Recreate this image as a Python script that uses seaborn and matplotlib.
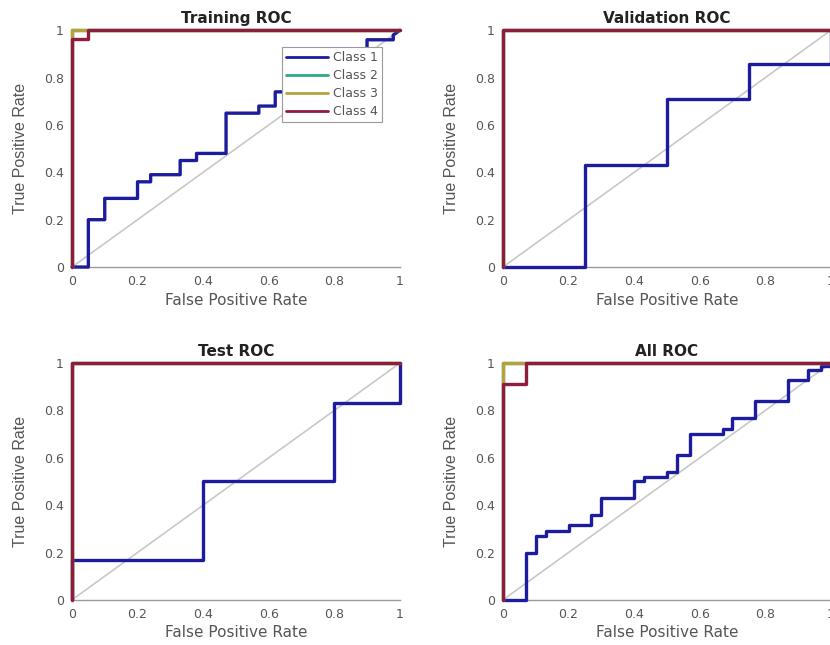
import pandas as pd
import matplotlib.pyplot as plt
import seaborn as sns


# ROC curve points (false positive rate, true positive rate) per data split and class
TRAIN_FPR = {
    "Class 1": [0, 0.05, 0.05, 0.10, 0.10, 0.20, 0.20, 0.24, 0.24, 0.33, 0.33, 0.38, 0.38,
                0.47, 0.47, 0.57, 0.57, 0.62, 0.62, 0.71, 0.71, 0.81, 0.81, 0.90, 0.90,
                0.98, 0.98, 1.0],
    "Class 2": [0, 0, 1.0],
    "Class 3": [0, 0, 1.0],
    "Class 4": [0, 0, 0.05, 0.05, 1.0],
}
TRAIN_TPR = {
    "Class 1": [0, 0, 0.20, 0.20, 0.29, 0.29, 0.36, 0.36, 0.39, 0.39, 0.45, 0.45, 0.48,
                0.48, 0.65, 0.65, 0.68, 0.68, 0.74, 0.74, 0.81, 0.81, 0.87, 0.87, 0.96,
                0.96, 0.98, 1.0],
    "Class 2": [0, 1.0, 1.0],
    "Class 3": [0, 1.0, 1.0],
    "Class 4": [0, 0.965, 0.965, 1.0, 1.0],
}

VAL_FPR = {
    "Class 1": [0, 0.25, 0.25, 0.50, 0.50, 0.75, 0.75, 1.0, 1.0],
    "Class 2": [0, 0, 1.0],
    "Class 3": [0, 0, 1.0],
    "Class 4": [0, 0, 1.0],
}
VAL_TPR = {
    "Class 1": [0, 0, 0.43, 0.43, 0.71, 0.71, 0.857, 0.857, 1.0],
    "Class 2": [0, 1.0, 1.0],
    "Class 3": [0, 1.0, 1.0],
    "Class 4": [0, 1.0, 1.0],
}

TEST_FPR = {
    "Class 1": [0, 0, 0.40, 0.40, 0.80, 0.80, 1.0, 1.0],
    "Class 2": [0, 0, 1.0],
    "Class 3": [0, 0, 1.0],
    "Class 4": [0, 0, 1.0],
}
TEST_TPR = {
    "Class 1": [0, 0.167, 0.167, 0.50, 0.50, 0.833, 0.833, 1.0],
    "Class 2": [0, 1.0, 1.0],
    "Class 3": [0, 1.0, 1.0],
    "Class 4": [0, 1.0, 1.0],
}

ALL_FPR = {
    "Class 1": [0, 0.07, 0.07, 0.10, 0.10, 0.13, 0.13, 0.20, 0.20, 0.27, 0.27, 0.30, 0.30,
                0.40, 0.40, 0.43, 0.43, 0.50, 0.50, 0.53, 0.53, 0.57, 0.57, 0.67, 0.67,
                0.70, 0.70, 0.77, 0.77, 0.87, 0.87, 0.93, 0.93, 0.97, 0.97, 1.0, 1.0],
    "Class 2": [0, 0, 1.0],
    "Class 3": [0, 0, 1.0],
    "Class 4": [0, 0, 0.07, 0.07, 1.0],
}
ALL_TPR = {
    "Class 1": [0, 0, 0.20, 0.20, 0.27, 0.27, 0.29, 0.29, 0.315, 0.315, 0.36, 0.36, 0.43,
                0.43, 0.50, 0.50, 0.52, 0.52, 0.54, 0.54, 0.61, 0.61, 0.70, 0.70, 0.72,
                0.72, 0.77, 0.77, 0.84, 0.84, 0.93, 0.93, 0.97, 0.97, 0.99, 0.99, 1.0],
    "Class 2": [0, 1.0, 1.0],
    "Class 3": [0, 1.0, 1.0],
    "Class 4": [0, 0.91, 0.91, 1.0, 1.0],
}

CLASSES = ["Class 1", "Class 2", "Class 3", "Class 4"]
CLASS_COLORS = ["#1c1c9c", "#2ea88a", "#b5a23c", "#8e1c3c"]
PANEL_TITLES = ["Training ROC", "Validation ROC", "Test ROC", "All ROC"]
TICKS = [0, 0.2, 0.4, 0.6, 0.8, 1]
TICK_LABELS = ["0", "0.2", "0.4", "0.6", "0.8", "1"]


def to_frame(fpr, tpr):
    rows = []
    for name in CLASSES:
        for i, (x, y) in enumerate(zip(fpr[name], tpr[name])):
            rows.append({"cls": name, "order": i, "fpr": x, "tpr": y})
    return pd.DataFrame(rows)


PANELS = [
    to_frame(TRAIN_FPR, TRAIN_TPR),
    to_frame(VAL_FPR, VAL_TPR),
    to_frame(TEST_FPR, TEST_TPR),
    to_frame(ALL_FPR, ALL_TPR),
]

sns.set_style("white")
plt.rcParams["font.family"] = ["DejaVu Sans"]

fig = plt.figure(figsize=(8.3, 6.45), dpi=100)

# axes boxes in figure fraction: left, bottom, width, height
POSITIONS = [
    [0.0867, 0.586, 0.395, 0.367],
    [0.606, 0.586, 0.395, 0.367],
    [0.0867, 0.070, 0.395, 0.367],
    [0.606, 0.070, 0.395, 0.367],
]

for idx, (df, title, pos) in enumerate(zip(PANELS, PANEL_TITLES, POSITIONS)):
    ax = fig.add_axes(pos)

    # chance diagonal
    diag = pd.DataFrame({"fpr": [0, 1], "tpr": [0, 1]})
    sns.lineplot(data=diag, x="fpr", y="tpr", ax=ax, color="#c8c8c8",
                 linewidth=1.2, sort=False, estimator=None, zorder=1)

    sns.lineplot(
        data=df,
        x="fpr",
        y="tpr",
        hue="cls",
        hue_order=CLASSES,
        palette=CLASS_COLORS,
        units="cls",
        estimator=None,
        sort=False,
        linewidth=2.4,
        legend=(idx == 0),
        ax=ax,
        zorder=3,
    )
    # let curves on the frame edges show at full width
    for line in ax.get_lines()[1:]:
        line.set_clip_on(False)

    ax.set_xlim(0, 1)
    ax.set_ylim(0, 1)
    ax.set_xticks(TICKS)
    ax.set_xticklabels(TICK_LABELS)
    ax.set_yticks(TICKS)
    ax.set_yticklabels(TICK_LABELS)
    ax.tick_params(direction="in", length=3, width=0.8, colors="#8a8a8a",
                   labelcolor="#555555", labelsize=9, pad=6)

    for side in ["left", "bottom", "top", "right"]:
        ax.spines[side].set_color("#9a9a9a")
        ax.spines[side].set_linewidth(1.0)
    ax.spines["right"].set_visible(False)

    ax.set_title(title, fontsize=11, fontweight="bold", color="#222222", pad=5)
    ax.set_xlabel("False Positive Rate", fontsize=11, color="#555555", labelpad=3)
    ax.set_ylabel("True Positive Rate", fontsize=11.5, color="#555555", labelpad=11,
                  family=["Liberation Sans Narrow", "Liberation Sans", "DejaVu Sans"])

    if idx == 0:
        leg = ax.legend(loc="upper right", bbox_to_anchor=(0.965, 0.955), fontsize=9,
                        frameon=True, fancybox=False, framealpha=1.0, handlelength=3.4,
                        borderpad=0.3, labelspacing=0.4, handletextpad=0.4)
        leg.set_zorder(5)
        leg.get_frame().set_edgecolor("#9a9a9a")
        leg.get_frame().set_linewidth(0.8)
        for line in leg.get_lines():
            line.set_linewidth(2.0)
        for text in leg.get_texts():
            text.set_color("#555555")

fig.savefig("out.png", dpi=100)
plt.close(fig)
